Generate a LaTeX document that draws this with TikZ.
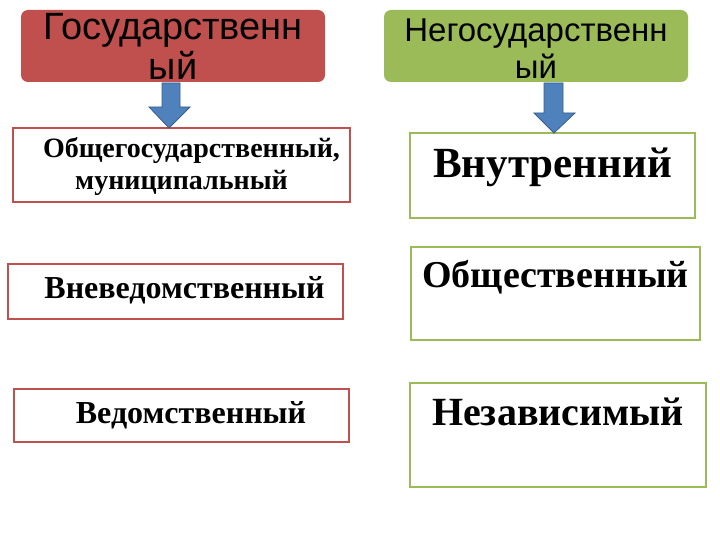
\documentclass[tikz,border=0pt]{standalone}
\usepackage{fontspec}
\setmainfont{Liberation Serif}
\setsansfont{Liberation Sans}
\definecolor{redfill}{HTML}{C0504D}
\definecolor{greenfill}{HTML}{9BBB59}
\definecolor{arrowblue}{HTML}{4F81BD}
\definecolor{arrowedge}{HTML}{385D8A}

\begin{document}
\begin{tikzpicture}[x=1pt,y=-1pt,
    head/.style={rounded corners=7pt,inner sep=0pt,minimum width=304pt,minimum height=72pt,align=center},
    redbox/.style={draw=redfill,line width=1.5pt,inner sep=0pt,align=center},
    greenbox/.style={draw=greenfill,line width=2pt,inner sep=0pt},
    blockarrow/.style={fill=arrowblue,draw=arrowedge,line width=0.8pt,line join=miter}]
            \useasboundingbox (0,0) rectangle (720,540);

            % two kinds
            \node[head,fill=redfill,font=\sffamily\fontsize{38}{40}\selectfont] (gos) at (173,46) {Государственн\\ый};
            \node[head,fill=greenfill,font=\sffamily\fontsize{33}{37}\selectfont] (negos) at (536,46) {\rule{0pt}{28pt}Негосударственн\\ый};

            % left column
            \node[redbox,minimum width=337pt,minimum height=74pt,font=\bfseries\fontsize{28}{32}\selectfont] (obsh) at (181.5,165) {\rule{0pt}{24pt}\hspace*{20pt}Общегосударственный,\\муниципальный};
            \node[redbox,minimum width=335pt,minimum height=55pt,text height=21pt,text depth=8pt,font=\bfseries\fontsize{32}{36}\selectfont] (vneved) at (175.5,291.5) {\hspace*{18pt}Вневедомственный};
            \node[redbox,minimum width=335pt,minimum height=53pt,text height=20pt,text depth=5pt,font=\bfseries\fontsize{32}{36}\selectfont] (ved) at (181.5,415.5) {\hspace*{19pt}Ведомственный};

            % right column
            \node[greenbox,minimum width=285pt,minimum height=85pt,text height=26pt,text depth=21pt,font=\bfseries\fontsize{43}{48}\selectfont] (vnutr) at (552.5,175.5) {Внутренний};
            \node[greenbox,minimum width=289pt,minimum height=93pt,text height=24pt,text depth=37pt,font=\bfseries\fontsize{38}{42}\selectfont] (obshch) at (555.5,293.5) {Общественный};
            \node[greenbox,minimum width=296pt,minimum height=104pt,text height=23pt,text depth=43pt,font=\bfseries\fontsize{40}{44}\selectfont] (nezav) at (558,435) {Независимый};

            % arrows
            \draw[blockarrow] (162,83) -- (180,83) -- (180,107) -- (190,107) -- (169,128) -- (149,107) -- (162,107) -- cycle;
            \draw[blockarrow] (544,83) -- (563,83) -- (563,113) -- (575,113) -- (554,133) -- (534,113) -- (544,113) -- cycle;
        \end{tikzpicture}
\end{document}
